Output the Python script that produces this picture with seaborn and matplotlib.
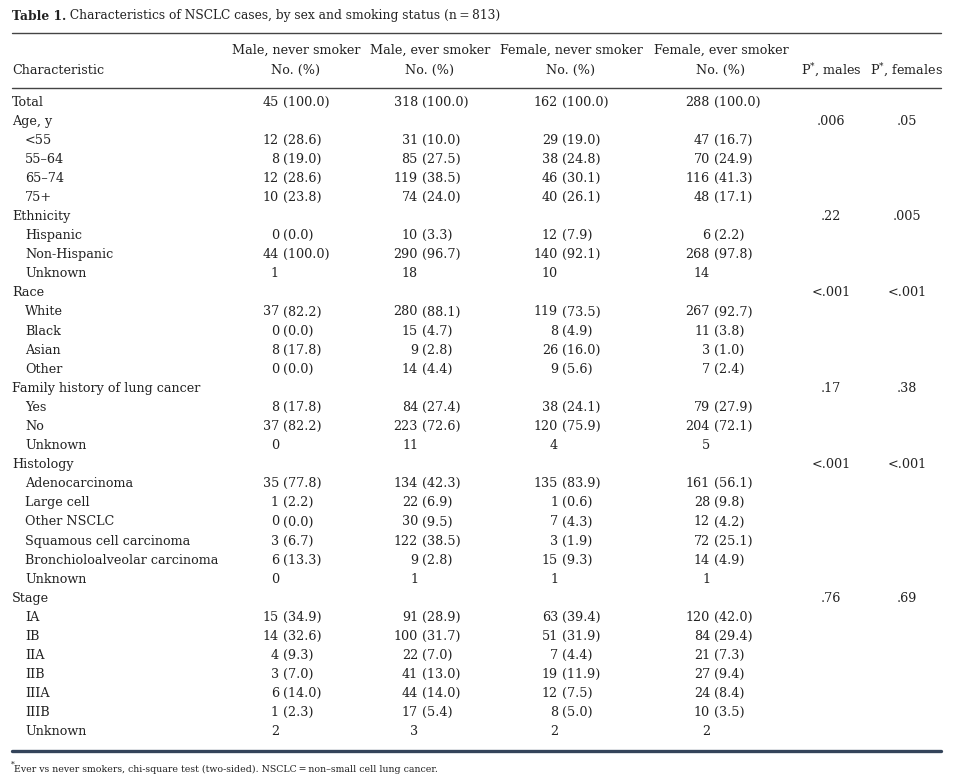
import matplotlib
matplotlib.use("Agg")
import matplotlib.pyplot as plt
import seaborn as sns

sns.set_theme(style="white")
plt.rcParams["font.family"] = ["DejaVu Serif"]
plt.rcParams["mathtext.fontset"] = "dejavuserif"

# ---------------- data ----------------
title_bold = "Table 1."
title_rest = " Characteristics of NSCLC cases, by sex and smoking status (n\u2009=\u2009813)"
group_headers = ["Male, never smoker", "Male, ever smoker", "Female, never smoker", "Female, ever smoker"]
sub_header = "No. (%)"
p_headers = ["P$^{*}$, males", "P$^{*}$, females"]

row_labels = ["Total", "Age, y", "<55", "55\u201364", "65\u201374", "75+",
              "Ethnicity", "Hispanic", "Non-Hispanic", "Unknown",
              "Race", "White", "Black", "Asian", "Other",
              "Family history of lung cancer", "Yes", "No", "Unknown",
              "Histology", "Adenocarcinoma", "Large cell", "Other NSCLC",
              "Squamous cell carcinoma", "Bronchioloalveolar carcinoma", "Unknown",
              "Stage", "IA", "IB", "IIA", "IIB", "IIIA", "IIIB", "Unknown"]
row_indent = [0, 0, 1, 1, 1, 1,
              0, 1, 1, 1,
              0, 1, 1, 1, 1,
              0, 1, 1, 1,
              0, 1, 1, 1, 1, 1, 1,
              0, 1, 1, 1, 1, 1, 1, 1]

male_never_n = [45, None, 12, 8, 12, 10, None, 0, 44, 1, None, 37, 0, 8, 0,
                None, 8, 37, 0, None, 35, 1, 0, 3, 6, 0, None, 15, 14, 4, 3, 6, 1, 2]
male_never_pct = [100.0, None, 28.6, 19.0, 28.6, 23.8, None, 0.0, 100.0, None, None, 82.2, 0.0, 17.8, 0.0,
                  None, 17.8, 82.2, None, None, 77.8, 2.2, 0.0, 6.7, 13.3, None, None, 34.9, 32.6, 9.3, 7.0, 14.0, 2.3, None]
male_ever_n = [318, None, 31, 85, 119, 74, None, 10, 290, 18, None, 280, 15, 9, 14,
               None, 84, 223, 11, None, 134, 22, 30, 122, 9, 1, None, 91, 100, 22, 41, 44, 17, 3]
male_ever_pct = [100.0, None, 10.0, 27.5, 38.5, 24.0, None, 3.3, 96.7, None, None, 88.1, 4.7, 2.8, 4.4,
                 None, 27.4, 72.6, None, None, 42.3, 6.9, 9.5, 38.5, 2.8, None, None, 28.9, 31.7, 7.0, 13.0, 14.0, 5.4, None]
female_never_n = [162, None, 29, 38, 46, 40, None, 12, 140, 10, None, 119, 8, 26, 9,
                  None, 38, 120, 4, None, 135, 1, 7, 3, 15, 1, None, 63, 51, 7, 19, 12, 8, 2]
female_never_pct = [100.0, None, 19.0, 24.8, 30.1, 26.1, None, 7.9, 92.1, None, None, 73.5, 4.9, 16.0, 5.6,
                    None, 24.1, 75.9, None, None, 83.9, 0.6, 4.3, 1.9, 9.3, None, None, 39.4, 31.9, 4.4, 11.9, 7.5, 5.0, None]
female_ever_n = [288, None, 47, 70, 116, 48, None, 6, 268, 14, None, 267, 11, 3, 7,
                 None, 79, 204, 5, None, 161, 28, 12, 72, 14, 1, None, 120, 84, 21, 27, 24, 10, 2]
female_ever_pct = [100.0, None, 16.7, 24.9, 41.3, 17.1, None, 2.2, 97.8, None, None, 92.7, 3.8, 1.0, 2.4,
                   None, 27.9, 72.1, None, None, 56.1, 9.8, 4.2, 25.1, 4.9, None, None, 42.0, 29.4, 7.3, 9.4, 8.4, 3.5, None]
p_males = {1: ".006", 6: ".22", 10: "<.001", 15: ".17", 19: "<.001", 26: ".76"}
p_females = {1: ".05", 6: ".005", 10: "<.001", 15: ".38", 19: "<.001", 26: ".69"}

footnote = "Ever vs never smokers, chi-square test (two-sided). NSCLC\u2009=\u2009non\u2013small cell lung cancer."

# ---------------- layout ----------------
W, H = 973, 782
fig = plt.figure(figsize=(W / 100, H / 100), dpi=100)
ax = fig.add_axes([0, 0, 1, 1])
ax.set_xlim(0, W)
ax.set_ylim(H, 0)
ax.axis("off")
sns.despine(ax=ax, left=True, bottom=True)

fs = 9.15
fs_title = 8.8
txt = "#222222"
x_left, x_indent = 12, 25
count_right = [279, 418, 558, 710]
header_center = [296, 430, 571, 721]
p_center = [831, 907]
row_y0, row_dy = 102, 19.09

# title
t1 = ax.text(x_left, 16, title_bold, fontsize=fs_title, fontweight="bold", color=txt, va="center", ha="left")
fig.canvas.draw()
r = fig.canvas.get_renderer()
bb = t1.get_window_extent(renderer=r)
ax.text(bb.x1, 16, title_rest, fontsize=fs_title, color=txt, va="center", ha="left")

# rules
ax.plot([12, 941], [33, 33], color="#444444", lw=1.0)
ax.plot([12, 941], [88, 88], color="#444444", lw=1.0)
ax.plot([12, 941], [751, 751], color="#34445a", lw=2.4)

# headers
for c, h in zip(header_center, group_headers):
    ax.text(c, 50, h, fontsize=fs, color=txt, ha="center", va="center")
    ax.text(c, 70, sub_header, fontsize=fs, color=txt, ha="center", va="center")
ax.text(x_left, 70, "Characteristic", fontsize=fs, color=txt, ha="left", va="center")
for c, h in zip(p_center, p_headers):
    ax.text(c, 70, h, fontsize=fs, color=txt, ha="center", va="center")

# body
cols = [(male_never_n, male_never_pct), (male_ever_n, male_ever_pct),
        (female_never_n, female_never_pct), (female_ever_n, female_ever_pct)]
for i, lab in enumerate(row_labels):
    y = row_y0 + i * row_dy
    ax.text(x_indent if row_indent[i] else x_left, y, lab, fontsize=fs, color=txt, ha="left", va="center")
    for (ns, ps), xr in zip(cols, count_right):
        if ns[i] is not None:
            ax.text(xr, y, str(ns[i]), fontsize=fs, color=txt, ha="right", va="center")
        if ps[i] is not None:
            ax.text(xr + 4, y, f"({ps[i]:.1f})", fontsize=fs, color=txt, ha="left", va="center")
    if i in p_males:
        ax.text(p_center[0], y, p_males[i], fontsize=fs, color=txt, ha="center", va="center")
    if i in p_females:
        ax.text(p_center[1], y, p_females[i], fontsize=fs, color=txt, ha="center", va="center")

# footnote
ax.text(11, 765, "*", fontsize=5.5, color=txt, ha="left", va="center")
ax.text(14, 769, footnote, fontsize=6.75, color=txt, ha="left", va="center")

fig.savefig("out.png", dpi=100, facecolor="white")
